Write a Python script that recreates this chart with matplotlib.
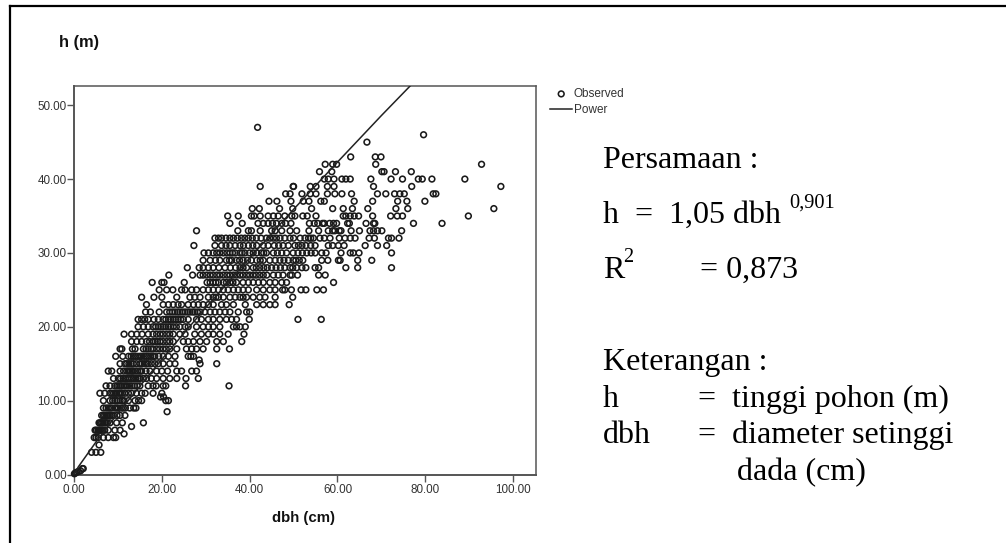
import matplotlib
matplotlib.use("Agg")
import matplotlib.pyplot as plt
from matplotlib.lines import Line2D

# dbh values, one list per height row
h47 = [41.8]
h46 = [79.6]
h45 = [66.7]
h43 = [63.0, 68.6, 69.9]
h42 = [57.2, 58.9, 59.8, 68.7, 92.8]
h41 = [55.9, 58.7, 70.1, 70.6, 73.2, 76.8]
h40 = [57, 57.9, 59.2, 61, 61.9, 62.9, 67.6, 72.2, 74.8, 78.4, 79.3, 81.5, 89]
h39 = [42.4, 49.9, 50, 53.8, 55.1, 57.7, 59.2, 68.2, 76.9, 97.2]
h38 = [48.2, 49.2, 51.9, 53.8, 55.1, 57.7, 59.4, 61, 63.2, 69.1, 71, 73, 74.2, 75.2, 81.8, 82.4]
h37 = [44.4, 46.2, 49.4, 52.2, 53.5, 56.2, 57, 63.8, 68, 73.7, 75.8, 79.9]
h36 = [40.6, 42.2, 46.8, 49.8, 54.1, 58.9, 61.3, 63.4, 66.9, 73.3, 76, 95.6]
h35 = [35, 37.4, 40.4, 41, 42.4, 44.2, 45.4, 46.5, 48, 49.6, 50.3, 52.1, 53.1, 55.1, 61.3, 61.9,
       62.9, 63.8, 64.8, 68, 72.1, 73.6, 74.8, 89.8]
h34 = [35.5, 38.3, 41.9, 43.1, 44.2, 45.2, 46.1, 47.3, 48.2, 49.4, 53.6, 54.7, 55.5, 56.6, 57, 58.2,
       59.1, 59.8, 62.3, 62.7, 66.5, 68.2, 68.5, 77.3, 83.8]
h33 = [27.9, 37.3, 39.7, 40.4, 42.4, 45, 45.8, 47.3, 49.2, 50.7, 53.5, 55.7, 57.9, 58.9, 59.4, 60.4,
       60.8, 63.1, 65, 67.4, 68.2, 69.1, 70.1, 74.6]
h32 = [32.1, 32.9, 33.6, 34.6, 35.5, 36.3, 37.2, 38.1, 38.9, 39.7, 40.6, 41.5, 42.6, 43.8, 44.6, 45.4,
       46.1, 46.9, 48, 49.2, 50, 51.5, 52.6, 53.4, 53.9, 54.5, 56, 57, 58.3, 60.4, 61.7, 62.9, 64, 67.2,
       68.4, 71.6, 72.3, 74]
h31 = [27.3, 32.1, 33.6, 34.6, 35.5, 36.7, 37.8, 38.6, 39.7, 40.7, 41.6, 43.1, 44.2, 45.6, 46.6, 47.6,
       48.8, 50.3, 51.1, 51.9, 52.8, 53.9, 54.9, 57.9, 58.9, 60.2, 61.5, 66.3, 69.1, 71.2]
h30 = [29.6, 30.6, 31.7, 32.5, 33.2, 34, 34.8, 35.5, 36.1, 36.7, 37.8, 38.3, 38.9, 40, 40.8, 41.6, 42.7,
       43.2, 43.8, 45.4, 46.3, 47.3, 48.4, 49.9, 51, 52, 53, 54, 54.9, 56.4, 57.4, 60.8, 62.9, 63.6,
       64.9, 72.3]
h29 = [29.4, 31, 32.2, 33.2, 34.7, 35.4, 35.9, 37, 37.7, 38.5, 39.5, 40.4, 41.6, 42.4, 43.1, 44.6, 45.8,
       46.9, 47.8, 48.8, 49.9, 50.5, 51.3, 52.1, 56.4, 57.8, 60.2, 60.6, 64.6, 67.8]
h28 = [25.8, 28.5, 29.4, 30.6, 31.7, 33, 34.4, 35.6, 36.8, 37.8, 38.5, 39.3, 40.8, 41.5, 42.3, 43.2, 44, 45,
       46, 47, 48, 49.2, 49.8, 50.7, 51.9, 52.8, 54.9, 55.7, 61.9, 64.6, 72.3]
h27 = [21.6, 27, 28.7, 29.4, 30.2, 31, 31.7, 32.5, 33.2, 34, 34.8, 35.5, 36.3, 37, 37.8, 38.5, 39.3, 40,
       40.8, 41.5, 42.3, 43.1, 43.9, 45.4, 46.5, 47.6, 49.2, 49.6, 50.9, 55.7, 57.2]
h26 = [17.8, 20, 20.5, 25.1, 30.3, 31, 31.7, 32.3, 32.9, 34, 34.7, 35.5, 36.2, 37, 38.5, 39.7, 40.8, 42,
       43.1, 44.6, 45.8, 47.3, 48.4, 59.1]
h25 = [19.4, 21.1, 22.5, 24.5, 25.3, 26.8, 27.9, 29.4, 30.6, 31.7, 32.9, 34, 35.1, 36.3, 37.4, 38.5,
       39.7, 41.6, 43.1, 44.6, 45.8, 47.5, 48, 49.5, 51.7, 52.8, 55.3, 56.8]
h24 = [15.4, 18.2, 20, 23.4, 26.4, 27.5, 28.7, 30.6, 31.7, 32.3, 32.9, 34, 35.5, 36.7, 37.8, 38.5, 39.3,
       40.8, 42.3, 43.5, 45.8, 49.8]
h23 = [16.5, 20.3, 21.5, 22.6, 23.7, 24.5, 26, 27.2, 28.3, 29.4, 30.6, 31.7, 33.6, 34.7, 36.3, 39, 41.6,
       43.1, 44.6, 45.8, 49]
h22 = [16.3, 17.4, 19.4, 21.1, 21.8, 22.4, 23, 23.6, 24.1, 24.7, 25.3, 25.9, 26.4, 27, 27.5, 28.1, 28.7,
       29.8, 31, 32.1, 33.2, 34.4, 35.5, 37.4, 39.3, 40]
h21 = [14.6, 15.4, 16.1, 16.9, 18.2, 19.2, 20.3, 20.9, 21.5, 22, 22.6, 23.2, 23.7, 24.3, 24.9, 26, 27.9, 29,
       30.6, 31.7, 33.2, 34.7, 35.9, 37, 39.9, 51, 56.3]
h20 = [14.6, 15.8, 16.9, 18, 18.6, 19.2, 19.8, 20.3, 20.9, 21.5, 22, 22.6, 23.3, 24.1, 25.3, 26, 27.9, 29.4,
       30.6, 31.7, 33.2, 36.3, 37, 37.8, 39]
h19 = [11.4, 13.1, 14.3, 15.5, 16.9, 18, 18.8, 19.6, 20.3, 21.1, 21.8, 22.6, 24.1, 25.3, 27.5, 29, 30.6,
       31.7, 33.2, 35.1, 38.7]
h18 = [13.1, 14.3, 15.4, 16.5, 17.2, 18, 18.5, 19, 19.6, 20.3, 21.1, 21.8, 22.6, 24.9, 26, 27.2, 28.7, 30.2,
       32.5, 34, 38.2]
h17 = [10.5, 10.9, 13.3, 13.9, 15.8, 16.4, 16.9, 17.5, 18, 18.8, 19.5, 20.3, 21, 21.8, 23.4, 25.6, 26.8,
       27.9, 29.4, 32.5, 35.4]
h16 = [9.5, 11.1, 12.4, 13, 13.5, 14, 14.5, 15, 15.4, 16, 16.5, 17, 17.5, 18, 18.4, 19.3, 20.3, 21.5, 23,
       26, 26.6, 27.2]
h15_5 = [28.5]
h15 = [10.5, 11.6, 12, 12.5, 13, 13.5, 14.2, 15, 15.5, 16, 16.5, 16.9, 17.6, 18.4, 19.2, 20.3, 21.8, 23, 28.7,
       32.5]
h14 = [7.8, 8.6, 10.5, 11.3, 12, 12.4, 12.8, 13.2, 13.5, 14, 14.5, 15, 15.4, 16.4, 17.3, 18.8, 20, 21.3,
       23.4, 24.5, 26.8, 27.9]
h13 = [9, 10.1, 10.6, 11.2, 11.7, 12.2, 12.6, 13.1, 13.6, 14.1, 14.6, 15, 15.8, 16.5, 17.6, 18.8, 20.3, 21.8,
       23.4, 25.5, 28.3]
h12 = [7.3, 8.2, 9.3, 9.8, 10.2, 10.6, 10.9, 11.4, 11.8, 12.2, 12.7, 13.2, 13.8, 14.4, 15, 16.9, 18, 18.7,
       20.3, 20.9, 25.4, 35.3]
h11 = [5.9, 7, 8.2, 8.6, 9, 9.4, 9.7, 10.2, 10.6, 11, 11.6, 12.4, 13.1, 14.2, 15.4, 16.2, 18, 20]
h10_5 = [19.7, 20.4]
h10 = [6.7, 8.2, 8.8, 9.3, 9.8, 10.5, 11, 11.4, 12.4, 13.9, 14.7, 15.4, 20.9, 21.5]
h9 = [6.7, 7.3, 7.8, 8.2, 8.6, 9.3, 9.7, 10.1, 10.8, 11.2, 11.7, 12.7, 13.6, 14.1]
h8_5 = [21.2]
h8 = [6.3, 6.7, 7, 7.4, 7.8, 8.2, 8.6, 9, 9.8, 10.5, 11.6]
h7 = [5.7, 6, 6.3, 6.6, 7, 7.3, 7.6, 8.2, 9.7, 11, 15.8]
h6_5 = [13.1]
h6 = [4.8, 5.1, 5.5, 5.7, 6, 6.3, 6.6, 7, 7.8, 9.3, 10.5]
h5_5 = [11.4]
h5 = [4.6, 5, 5.5, 6.7, 7.8, 9, 9.5]
h4 = [5.7]
h3 = [4, 5, 6.1]
small_dbh = [0.1, 0.3, 0.6, 1.0, 1.5, 1.9, 2.1]
small_h = [0.1, 0.2, 0.3, 0.4, 0.5, 0.8, 0.8]

rows = [(47, h47), (46, h46), (45, h45), (43, h43), (42, h42), (41, h41), (40, h40), (39, h39),
        (38, h38), (37, h37), (36, h36), (35, h35), (34, h34), (33, h33), (32, h32), (31, h31),
        (30, h30), (29, h29), (28, h28), (27, h27), (26, h26), (25, h25), (24, h24), (23, h23),
        (22, h22), (21, h21), (20, h20), (19, h19), (18, h18), (17, h17), (16, h16), (15.5, h15_5),
        (15, h15), (14, h14), (13, h13), (12, h12), (11, h11), (10.5, h10_5), (10, h10), (9, h9),
        (8.5, h8_5), (8, h8), (7, h7), (6.5, h6_5), (6, h6), (5.5, h5_5), (5, h5), (4, h4), (3, h3)]

fit_dbh = [0, 1, 5, 10, 20, 30, 40, 50, 60, 70, 78]
fit_h = [0, 1.05, 4.4, 8.3, 15.6, 22.6, 29.3, 35.9, 42.3, 48.6, 53.5]

x_ticks = [0, 20, 40, 60, 80, 100]
y_ticks = [0, 10, 20, 30, 40, 50]

W, H = 1006, 543
GREY = "#555555"

dbh = list(small_dbh)
height = list(small_h)
for h, vals in rows:
    for v in vals:
        dbh.append(v)
        height.append(h)

fig = plt.figure(figsize=(W / 100, H / 100), dpi=100)
ax = fig.add_axes([74 / W, 1 - 474.5 / H, (536 - 74) / W, (474.5 - 86) / H])

ax.scatter(dbh, height, s=17, facecolors="none", edgecolors="#1a1a1a", linewidths=1.15, label="Observed",
           clip_on=False, zorder=3)
ax.plot(fit_dbh, fit_h, color="#222222", lw=1.1, label="Power", zorder=4)

ax.set_xlim(0, 105.2)
ax.set_ylim(0, 52.6)
ax.set_xticks(x_ticks, [f"{t:.2f}" for t in x_ticks])
ax.set_yticks(y_ticks, [f"{t:.2f}" for t in y_ticks])
ax.tick_params(length=5, width=1, color=GREY, labelsize=8.4, labelcolor="#333333")
ax.tick_params(axis="x", pad=1.5)
ax.tick_params(axis="y", pad=0.3)
for label in ax.get_xticklabels() + ax.get_yticklabels():
    label.set_family("Liberation Sans")
for spine in ax.spines.values():
    spine.set_color(GREY)
    spine.set_linewidth(1.1)
ax.spines["left"].set_linewidth(1.4)
ax.spines["bottom"].set_linewidth(1.4)

leg = ax.legend(loc="upper left", bbox_to_anchor=(550 / W, 1 - 88 / H), bbox_transform=fig.transFigure,
                frameon=False, borderpad=0, borderaxespad=0, labelspacing=0.35, handlelength=1.9,
                handletextpad=0.1, prop={"family": "Liberation Sans", "size": 8.5})
for t in leg.get_texts():
    t.set_color("#333333")


def put(x, y, s, size=23, family="Liberation Serif", **kw):
    # positions in picture pixels, y down
    fig.text(x / W, 1 - y / H, s, fontsize=size, family=family, va="baseline", color=kw.pop("color", "black"), **kw)


put(59, 47, "h (m)", size=11.8, family="Liberation Sans", weight="bold", color="#111111")
put(304, 522, "dbh (cm)", size=10.8, family="Liberation Sans", weight="bold", color="#111111", ha="center")

put(603, 168, "Persamaan :")
put(603, 223, "h  =  1,05 dbh")
put(789, 208, "0,901", size=14.7)
put(603, 278, "R")
put(623, 262, "2", size=14.7)
put(700, 278, "= 0,873")
put(603, 370, "Keterangan :")
put(603, 407, "h")
put(698, 407, "=  tinggi pohon (m)")
put(603, 443, "dbh")
put(698, 443, "=  diameter setinggi")
put(737, 480, "dada (cm)")

# outer frame, only left and top show in the picture
fig.add_artist(Line2D([10 / W, 10 / W], [0, 1 - 6 / H], color="black", lw=1.6, transform=fig.transFigure))
fig.add_artist(Line2D([10 / W, 1], [1 - 6 / H, 1 - 6 / H], color="black", lw=1.6, transform=fig.transFigure))

fig.savefig("out.png", dpi=100)
